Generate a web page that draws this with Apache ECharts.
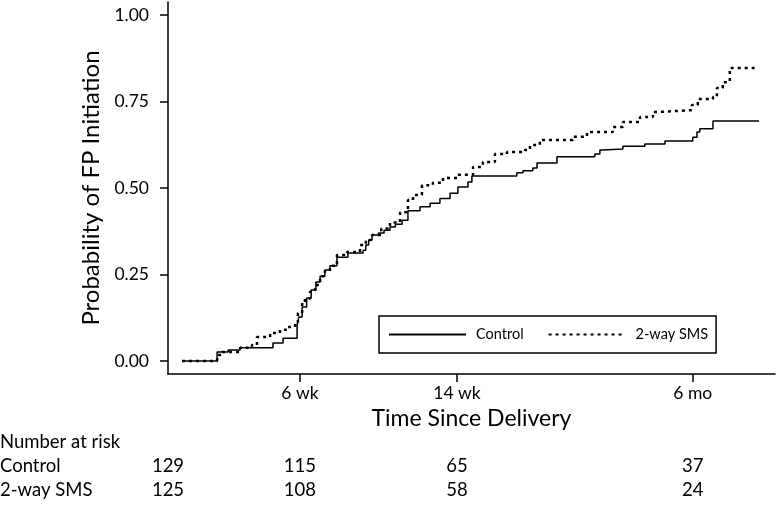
<!DOCTYPE html>
<html>
<head>
<meta charset="utf-8">
<script src="https://cdn.jsdelivr.net/npm/echarts@6/dist/echarts.min.js"></script>
<style>
html,body{margin:0;padding:0;background:#fff;}
#chart{width:777px;height:505px;}
</style>
</head>
<body>
<div id="chart"></div>
<script>
// ---- data (days since delivery, cumulative probability) ----
const controlT = [0,12.5,16.4,20.7,32.4,36.0,41.0,41.6,42.8,44.4,46.0,47.7,49.2,50.9,52.7,55.2,59.1,64.5,65.5,66.5,67.7,70.0,72.0,74.1,76.0,78.4,80.5,84.8,88.4,91.9,95.5,98.3,101.9,103.3,119.3,121.5,125.0,126.5,133.6,147.1,148.9,150.0,157.1,164.9,172.1,182.0,183.5,184.5,189.2,205.6];
const controlP = [0,0.026,0.032,0.038,0.052,0.066,0.104,0.127,0.156,0.182,0.205,0.228,0.245,0.263,0.275,0.30,0.312,0.32,0.335,0.35,0.364,0.37,0.378,0.387,0.395,0.407,0.434,0.446,0.456,0.47,0.485,0.503,0.517,0.535,0.544,0.55,0.558,0.572,0.59,0.598,0.61,0.613,0.621,0.627,0.636,0.647,0.662,0.671,0.694,0.694];
const smsT = [0,12.5,14.3,20.7,24.9,26.7,31.4,34.9,37.8,40.3,41.3,42.8,43.8,45.6,47.4,49.2,50.9,52.7,55.2,58.8,63.4,65.5,67.7,71,74.1,77.7,80.5,82.3,85.5,89.4,93.0,98.0,103.7,107.2,111.5,115.8,122.2,124.0,127.5,139.3,144.3,153.5,157.1,163.2,167.8,170.3,181.7,183.8,189.2,190.6,192.7,195.2,205.2];
const smsP = [0,0.017,0.026,0.038,0.046,0.069,0.081,0.09,0.098,0.113,0.139,0.168,0.18,0.2,0.22,0.245,0.26,0.275,0.306,0.315,0.335,0.35,0.364,0.383,0.40,0.43,0.465,0.48,0.508,0.515,0.529,0.538,0.561,0.575,0.598,0.604,0.61,0.624,0.639,0.648,0.662,0.676,0.691,0.705,0.72,0.725,0.74,0.757,0.763,0.789,0.806,0.847,0.847];

const seriesNames = ['Control', '2-way SMS'];
const xTickValues = [42, 98, 182];
const xTickLabels = ['6 wk', '14 wk', '6 mo'];
const yTickValues = [0, 0.25, 0.5, 0.75, 1];
const yTickLabels = ['0.00', '0.25', '0.50', '0.75', '1.00'];
const riskTitle = 'Number at risk';
const riskTimes = [-5, 42, 98, 182];
const riskControl = [129, 115, 65, 37];
const riskSms = [125, 108, 58, 24];

const FONT = 'Lato';
const chart = echarts.init(document.getElementById('chart'));

function pairs(t, p) { return t.map((x, i) => [x, p[i]]); }

const option = {
  animation: false,
  backgroundColor: '#fff',
  grid: { left: 168, right: 2, top: 2, bottom: 131, containLabel: false },
  xAxis: {
    type: 'value', min: -5, max: 211.3,
    name: 'Time Since Delivery', nameLocation: 'middle', nameGap: 30,
    nameTextStyle: { fontFamily: FONT, fontSize: 23, color: '#000' },
    axisLine: { show: true, onZero: false, lineStyle: { color: '#000', width: 1.5 } },
    axisTick: { show: true, length: 8, inside: false, customValues: xTickValues, lineStyle: { color: '#000', width: 1.5 } },
    axisLabel: { margin: 10, fontFamily: FONT, fontSize: 17.5, color: '#000', customValues: xTickValues,
      formatter: v => { const i = xTickValues.indexOf(v); return i >= 0 ? xTickLabels[i] : ''; } },
    splitLine: { show: false }
  },
  yAxis: {
    type: 'value', min: -0.0376, max: 1.0376,
    name: 'Probability of FP Initiation', nameLocation: 'middle', nameGap: 64,
    nameTextStyle: { fontFamily: FONT, fontSize: 24, color: '#000' },
    axisLine: { show: true, onZero: false, lineStyle: { color: '#000', width: 1.5 } },
    axisTick: { show: true, length: 8, customValues: yTickValues, lineStyle: { color: '#000', width: 1.5 } },
    axisLabel: { margin: 19, fontFamily: FONT, fontSize: 17.5, color: '#000', customValues: yTickValues,
      formatter: v => { const i = yTickValues.findIndex(t => Math.abs(t - v) < 1e-9); return i >= 0 ? yTickLabels[i] : ''; } },
    splitLine: { show: false }
  },
  legend: {
    data: seriesNames,
    left: 379, top: 316,
    orient: 'horizontal',
    borderColor: '#000', borderWidth: 1.5, borderRadius: 0,
    padding: [11, 8, 11, 9],
    itemWidth: 77, itemHeight: 14, itemGap: 24,
    itemStyle: { color: 'rgba(0,0,0,0)', borderWidth: 0, opacity: 0 },
    textStyle: { fontFamily: FONT, fontSize: 14.5, color: '#000', padding: [0, 0, 0, 5] }
  },
  series: [
    {
      name: seriesNames[0], type: 'line', step: 'end', symbol: 'none', showSymbol: false,
      data: pairs(controlT, controlP),
      lineStyle: { color: '#000', width: 1.5, type: 'solid' },
      itemStyle: { color: '#000' }
    },
    {
      name: seriesNames[1], type: 'line', step: 'end', symbol: 'none', showSymbol: false,
      data: pairs(smsT, smsP),
      lineStyle: { color: '#000', width: 2.5, type: [3, 4] },
      itemStyle: { color: '#000' }
    }
  ]
};
chart.setOption(option);

// risk table positioned through the x axis scale
const rowY = [442, 466, 490];
const g = [];
const txt = (x, y, s, align) => ({
  type: 'text', x: x, y: y,
  style: { text: String(s), fontFamily: FONT, fontSize: 18.5, fill: '#000', textAlign: align, textVerticalAlign: 'middle' }
});
g.push(txt(0, rowY[0], riskTitle, 'left'));
g.push(txt(0, rowY[1], seriesNames[0], 'left'));
g.push(txt(0, rowY[2], seriesNames[1], 'left'));
riskTimes.forEach((t, i) => {
  const px = chart.convertToPixel({ xAxisIndex: 0 }, t);
  g.push(txt(px, rowY[1], riskControl[i], 'center'));
  g.push(txt(px, rowY[2], riskSms[i], 'center'));
});
chart.setOption({ graphic: g });
</script>
</body>
</html>
